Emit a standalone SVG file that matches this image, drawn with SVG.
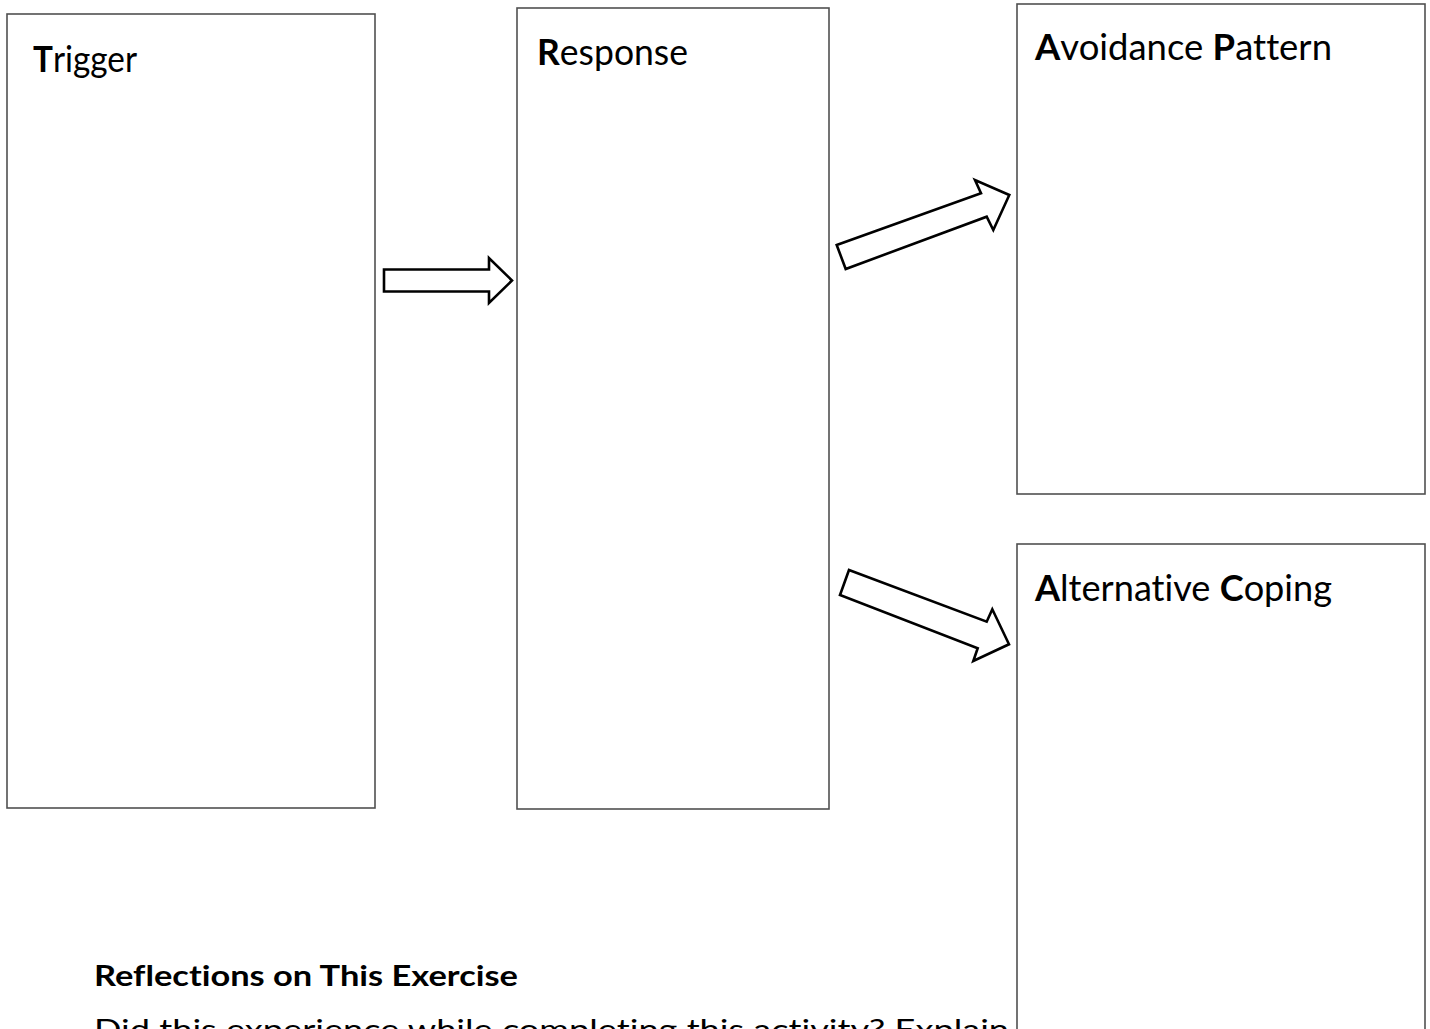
<svg xmlns="http://www.w3.org/2000/svg" width="1430" height="1029" viewBox="0 0 1430 1029">
<style>
text{font-variant-ligatures:none;font-feature-settings:"liga" 0}
.box{fill:#fff;stroke:#505050;stroke-width:1.6}
.arrow{fill:#fff;stroke:#000;stroke-width:2.6;stroke-linejoin:miter}
.lbl{font-family:Lato,"Open Sans","Liberation Sans",sans-serif;font-size:36px;fill:#000}
.b{font-weight:bold}
.h{font-family:Lato,"Open Sans","Liberation Sans",sans-serif;font-size:29px;font-weight:bold;fill:#000}
.p{font-family:Lato,"Open Sans","Liberation Sans",sans-serif;font-size:28px;fill:#000}
</style>
<rect width="1430" height="1029" fill="#fff"/>
<g id="trigger">
<rect class="box" x="7" y="14" width="368" height="794"/>
<text class="lbl" x="33" y="72" textLength="104" lengthAdjust="spacingAndGlyphs"><tspan class="b">T</tspan>rigger</text>
</g>
<g id="response">
<rect class="box" x="517" y="8" width="312" height="801"/>
<text class="lbl" x="537" y="65" textLength="151" lengthAdjust="spacingAndGlyphs"><tspan class="b">R</tspan>esponse</text>
</g>
<g id="avoidance">
<rect class="box" x="1017" y="4" width="408" height="490"/>
<text class="lbl" x="1035" y="60" textLength="297" lengthAdjust="spacingAndGlyphs"><tspan class="b">A</tspan>voidance <tspan class="b">P</tspan>attern</text>
</g>
<g id="alternative">
<rect class="box" x="1017" y="544" width="408" height="500"/>
<text class="lbl" x="1035" y="601" textLength="297" lengthAdjust="spacingAndGlyphs"><tspan class="b">A</tspan>lternative <tspan class="b">C</tspan>oping</text>
</g>
<g id="connectors">
<polygon class="arrow" points="384,269.5 489,269.5 489,258 512,280.5 489,303 489,291.5 384,291.5"/>
<polygon class="arrow" points="836.7,245 981,193.3 975,180 1009.3,195 993.3,230 986.7,216.7 845.7,269"/>
<polygon class="arrow" points="849,570 986.7,621.7 992.3,609.3 1009,644.3 973.3,661 977.7,648.3 840,595"/>
</g>
<g id="reflections">
<text class="h" x="94" y="986" textLength="424" lengthAdjust="spacingAndGlyphs">Reflections on This Exercise</text>
<text class="p" x="94" y="1040" textLength="915" lengthAdjust="spacingAndGlyphs">Did this experience while completing this activity? Explain</text>
</g>
</svg>
